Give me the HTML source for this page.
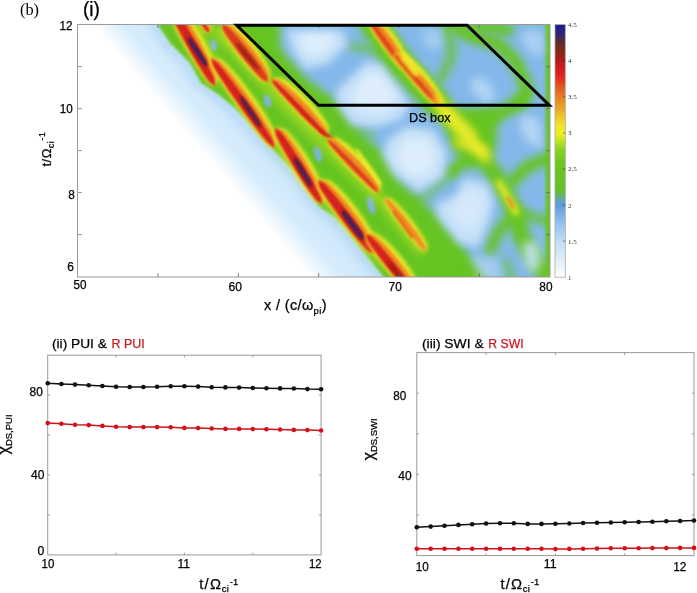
<!DOCTYPE html>
<html><head><meta charset="utf-8"><title>figure</title>
<style>html,body{margin:0;padding:0;background:#fff}svg{display:block}text{font-family:"Liberation Sans",sans-serif;fill:#000;stroke:#000;stroke-width:0.25px}.ser{font-family:"Liberation Serif",serif;stroke:none}</style>
</head><body>
<svg width="697" height="593" viewBox="0 0 697 593">
<defs>
<filter id="b1" filterUnits="userSpaceOnUse" x="0" y="0" width="697" height="593"><feGaussianBlur stdDeviation="1"/></filter>
<filter id="b15" filterUnits="userSpaceOnUse" x="0" y="0" width="697" height="593"><feGaussianBlur stdDeviation="1.5"/></filter>
<filter id="b2" filterUnits="userSpaceOnUse" x="0" y="0" width="697" height="593"><feGaussianBlur stdDeviation="2"/></filter>
<filter id="b3" filterUnits="userSpaceOnUse" x="0" y="0" width="697" height="593"><feGaussianBlur stdDeviation="3"/></filter>
<filter id="b4" filterUnits="userSpaceOnUse" x="0" y="0" width="697" height="593"><feGaussianBlur stdDeviation="4"/></filter>
<filter id="b5" filterUnits="userSpaceOnUse" x="0" y="0" width="697" height="593"><feGaussianBlur stdDeviation="5"/></filter>
<filter id="b6" filterUnits="userSpaceOnUse" x="0" y="0" width="697" height="593"><feGaussianBlur stdDeviation="6"/></filter>
<filter id="b8" filterUnits="userSpaceOnUse" x="0" y="0" width="697" height="593"><feGaussianBlur stdDeviation="8"/></filter>
<clipPath id="cp"><rect x="78" y="25" width="472" height="252"/></clipPath>
<linearGradient id="ug" gradientUnits="userSpaceOnUse" x1="92" y1="25" x2="136.5" y2="-13.5"><stop offset="0" stop-color="#ffffff"/><stop offset="0.15" stop-color="#f0f8fe"/><stop offset="0.4" stop-color="#d8edfc"/><stop offset="1" stop-color="#c8e4fa"/></linearGradient>
<linearGradient id="cb" x1="0" y1="0" x2="0" y2="1">
<stop offset="0.0" stop-color="#1b1b8f"/>
<stop offset="0.0286" stop-color="#26247f"/>
<stop offset="0.0571" stop-color="#4a2a48"/>
<stop offset="0.0857" stop-color="#6e2a22"/>
<stop offset="0.1143" stop-color="#8f2412"/>
<stop offset="0.1429" stop-color="#b01c18"/>
<stop offset="0.1714" stop-color="#d01c1c"/>
<stop offset="0.2" stop-color="#e02020"/>
<stop offset="0.2343" stop-color="#e24a1e"/>
<stop offset="0.2857" stop-color="#e67e22"/>
<stop offset="0.3429" stop-color="#ecb02a"/>
<stop offset="0.4" stop-color="#f2e62a"/>
<stop offset="0.4286" stop-color="#f0f020"/>
<stop offset="0.4571" stop-color="#c4e820"/>
<stop offset="0.4943" stop-color="#8ad41c"/>
<stop offset="0.5429" stop-color="#6cc81c"/>
<stop offset="0.6571" stop-color="#62c028"/>
<stop offset="0.68" stop-color="#60b478"/>
<stop offset="0.7" stop-color="#5ea2c8"/>
<stop offset="0.7143" stop-color="#5c9cdc"/>
<stop offset="0.7857" stop-color="#94c2ee"/>
<stop offset="0.8571" stop-color="#c0dcf6"/>
<stop offset="0.9286" stop-color="#e0eefb"/>
<stop offset="1.0" stop-color="#ffffff"/>
</linearGradient>
</defs>
<rect width="697" height="593" fill="#fff"/>
<g clip-path="url(#cp)">
<rect x="78" y="25" width="472" height="252" fill="#fff"/>
<polygon points="92.0,25.0 560.0,25.0 560.0,290.0 321.2,290.0" fill="url(#ug)"/>
<polyline points="152.0,24.0 166.0,45.0 186.0,65.0 197.0,85.0 214.5,96.6 232.0,111.0 243.0,122.0 257.5,139.6 271.4,153.5 291.5,173.6 306.0,193.6 314.5,208.0 331.7,219.5 343.0,231.0 357.5,251.0 371.0,268.0 382.0,282.0" fill="none" stroke="#a8d0f3" stroke-width="8" stroke-linecap="round" stroke-linejoin="round" filter="url(#b3)" opacity="0.5"/>
<polygon points="156.0,22.0 170.0,43.0 190.0,63.0 201.0,83.0 218.5,94.6 236.0,109.0 247.0,120.0 261.5,137.6 275.4,151.5 295.5,171.6 310.0,191.6 318.5,206.0 335.7,217.5 347.0,229.0 361.5,249.0 375.0,266.0 386.0,280.0 560.0,290.0 560.0,15.0 156.0,15.0" fill="#66c422" filter="url(#b15)"/>
<polygon points="280.0,20.0 280.0,48.0 308.0,80.0 334.0,99.0 352.0,126.0 383.0,152.0 397.0,178.0 437.0,215.0 462.0,246.0 492.0,285.0 560.0,285.0 560.0,20.0" fill="#84b8ea" filter="url(#b4)"/>
<polyline points="372.0,22.0 400.0,62.0 437.0,103.0 470.0,140.0 500.0,182.0 516.0,213.0 522.0,238.0 548.0,280.0" fill="none" stroke="#66c422" stroke-width="17" stroke-linecap="round" stroke-linejoin="round" filter="url(#b4)"/>
<polyline points="448.0,22.0 470.0,36.0 498.0,44.0 516.0,62.0 528.0,90.0 520.0,104.0" fill="none" stroke="#66c422" stroke-width="13" stroke-linecap="round" stroke-linejoin="round" filter="url(#b4)"/>
<polyline points="470.0,25.0 508.0,30.0" fill="none" stroke="#66c422" stroke-width="12" stroke-linecap="round" stroke-linejoin="round" filter="url(#b4)"/>
<polyline points="522.0,100.0 504.0,112.0 480.0,122.0" fill="none" stroke="#66c422" stroke-width="13" stroke-linecap="round" stroke-linejoin="round" filter="url(#b4)"/>
<polygon points="440.0,108.0 498.0,108.0 496.0,150.0 472.0,170.0 452.0,148.0" fill="#66c422" filter="url(#b4)"/>
<polyline points="476.0,150.0 452.0,172.0" fill="none" stroke="#66c422" stroke-width="12" stroke-linecap="round" stroke-linejoin="round" filter="url(#b4)"/>
<polyline points="452.0,172.0 430.0,192.0 412.0,204.0 400.0,208.0" fill="none" stroke="#66c422" stroke-width="9" stroke-linecap="round" stroke-linejoin="round" filter="url(#b4)" opacity="0.55"/>
<polyline points="516.0,213.0 498.0,232.0 490.0,250.0" fill="none" stroke="#66c422" stroke-width="12" stroke-linecap="round" stroke-linejoin="round" filter="url(#b4)" opacity="0.9"/>
<polyline points="550.0,158.0 528.0,166.0 512.0,182.0" fill="none" stroke="#66c422" stroke-width="12" stroke-linecap="round" stroke-linejoin="round" filter="url(#b4)"/>
<polyline points="550.0,222.0 530.0,216.0 518.0,214.0" fill="none" stroke="#66c422" stroke-width="9" stroke-linecap="round" stroke-linejoin="round" filter="url(#b4)" opacity="0.9"/>
<polyline points="352.0,46.0 372.0,50.0 392.0,60.0" fill="none" stroke="#66c422" stroke-width="8" stroke-linecap="round" stroke-linejoin="round" filter="url(#b4)" opacity="0.7"/>
<polyline points="448.0,30.0 452.0,56.0 440.0,80.0" fill="none" stroke="#66c422" stroke-width="9" stroke-linecap="round" stroke-linejoin="round" filter="url(#b4)" opacity="0.8"/>
<polyline points="330.0,104.0 346.0,128.0 372.0,134.0" fill="none" stroke="#66c422" stroke-width="7" stroke-linecap="round" stroke-linejoin="round" filter="url(#b4)" opacity="0.6"/>
<polyline points="506.0,262.0 512.0,280.0" fill="none" stroke="#66c422" stroke-width="8" stroke-linecap="round" stroke-linejoin="round" filter="url(#b4)" opacity="0.7"/>
<line x1="548.5" y1="25" x2="548.5" y2="277" stroke="#66c422" stroke-width="6" stroke-linecap="round" filter="url(#b15)"/>
<polygon points="286.0,30.0 342.0,30.0 348.0,44.0 328.0,64.0 305.0,69.0 292.0,50.0" fill="#c6e1f8" filter="url(#b4)"/>
<polygon points="366.5,62.0 384.0,64.0 403.0,92.4 410.0,106.0 400.0,120.0 375.0,127.0 352.0,124.0 336.8,103.0 336.8,90.0" fill="#c6e1f8" filter="url(#b4)"/>
<polygon points="407.7,126.0 434.0,130.0 447.0,153.6 443.0,177.0 418.7,192.0 393.0,173.0 382.4,153.6 389.0,138.0" fill="#c6e1f8" filter="url(#b4)"/>
<polygon points="463.7,178.0 487.0,183.0 494.0,201.4 489.0,222.6 477.9,247.0 459.0,243.0 438.8,217.9 436.0,204.0 456.6,195.0" fill="#c6e1f8" filter="url(#b4)"/>
<polygon points="523.0,242.0 537.0,242.0 541.0,262.0 535.0,274.0 525.0,264.0" fill="#c6e1f8" filter="url(#b4)" opacity="0.9"/>
<polygon points="474.0,76.0 490.0,82.0 496.0,100.0 482.0,102.0 470.0,88.0" fill="#c6e1f8" filter="url(#b4)" opacity="0.7"/>
<polygon points="522.0,114.0 540.0,120.0 543.0,148.0 530.0,144.0 520.0,130.0" fill="#c6e1f8" filter="url(#b4)" opacity="0.7"/>
<polygon points="524.0,30.0 542.0,32.0 544.0,54.0 534.0,56.0 522.0,42.0" fill="#c6e1f8" filter="url(#b4)" opacity="0.6"/>
<polygon points="424.0,30.0 440.0,30.0 444.0,46.0 432.0,50.0 422.0,40.0" fill="#c6e1f8" filter="url(#b4)" opacity="0.5"/>
<polygon points="470.0,256.0 496.0,258.0 504.0,280.0 480.0,280.0" fill="#c6e1f8" filter="url(#b4)" opacity="0.5"/>
<polygon points="300.0,34.0 332.0,34.0 334.0,44.0 318.0,56.0 304.0,52.0" fill="#e4f1fc" filter="url(#b4)" opacity="0.8"/>
<polygon points="368.0,72.0 384.0,76.0 396.0,98.0 384.0,112.0 362.0,110.0 350.0,98.0" fill="#e4f1fc" filter="url(#b4)" opacity="0.8"/>
<polygon points="406.0,138.0 428.0,140.0 436.0,158.0 428.0,174.0 410.0,176.0 396.0,158.0" fill="#e4f1fc" filter="url(#b4)" opacity="0.8"/>
<polygon points="462.0,192.0 480.0,192.0 484.0,206.0 476.0,228.0 462.0,228.0 450.0,212.0" fill="#e4f1fc" filter="url(#b4)" opacity="0.5"/>
<ellipse cx="213.5" cy="45" rx="3.6" ry="6" transform="rotate(-14 213.5 45)" fill="#7ab2e6" filter="url(#b15)"/>
<ellipse cx="267.5" cy="101" rx="3.6" ry="6.5" transform="rotate(-14 267.5 101)" fill="#7ab2e6" filter="url(#b15)"/>
<ellipse cx="318" cy="154" rx="3.6" ry="8" transform="rotate(-14 318 154)" fill="#7ab2e6" filter="url(#b15)"/>
<ellipse cx="371" cy="205" rx="3.6" ry="9.5" transform="rotate(-14 371 205)" fill="#7ab2e6" filter="url(#b15)"/>
<polyline points="215.0,30.0 262.0,80.0 300.0,120.0 345.0,165.0 385.0,205.0 420.0,250.0" fill="none" stroke="#c8e822" stroke-width="10" stroke-linecap="round" stroke-linejoin="round" filter="url(#b4)" opacity="0.55"/>
<polyline points="196.0,28.0 225.0,78.0 262.0,125.0 300.0,175.0 340.0,215.0 380.0,262.0" fill="none" stroke="#c8e822" stroke-width="8" stroke-linecap="round" stroke-linejoin="round" filter="url(#b4)" opacity="0.45"/>
<polygon points="166.0,-2.0 176.5,0.4 181.5,5.8 186.0,11.6 190.1,17.5 194.1,23.5 197.8,29.7 201.4,35.9 204.8,42.3 208.1,48.7 211.1,55.2 214.0,61.9 216.5,68.7 218.5,75.8 215.0,86.0 215.0,86.0 207.6,81.9 203.2,76.1 199.2,70.1 195.3,64.0 191.6,57.9 187.9,51.7 184.4,45.4 180.9,39.1 177.6,32.7 174.3,26.3 171.2,19.8 168.2,13.2 165.6,6.5 166.0,-2.0" fill="#f2ee2c" filter="url(#b2)"/>
<polygon points="166.0,-2.0 174.5,1.5 179.1,7.2 183.2,13.1 187.2,19.1 191.0,25.2 194.7,31.4 198.3,37.7 201.7,44.0 205.0,50.4 208.2,56.8 211.2,63.4 214.1,70.1 216.5,77.0 215.0,86.0 215.0,86.0 208.3,81.5 204.1,75.6 200.2,69.5 196.4,63.4 192.7,57.3 189.1,51.0 185.5,44.8 182.1,38.5 178.7,32.1 175.4,25.7 172.2,19.3 169.1,12.7 166.3,6.1 166.0,-2.0" fill="#ee8a22" filter="url(#b15)"/>
<polygon points="166.0,-2.0 172.0,2.9 176.1,8.9 179.9,15.0 183.7,21.1 187.3,27.3 190.9,33.5 194.4,39.8 197.9,46.1 201.3,52.4 204.7,58.8 207.9,65.2 211.1,71.7 214.0,78.3 215.0,86.0 215.0,86.0 209.0,81.1 204.9,75.1 201.1,69.0 197.3,62.9 193.7,56.7 190.1,50.5 186.6,44.2 183.1,37.9 179.7,31.6 176.3,25.2 173.1,18.8 169.9,12.3 167.0,5.7 166.0,-2.0" fill="#d4201c" filter="url(#b1)"/>
<polygon points="188.0,37.0 191.0,38.0 192.7,39.9 194.2,41.8 195.8,43.8 197.2,45.8 198.6,47.8 200.0,49.9 201.3,51.9 202.6,54.0 203.9,56.2 205.1,58.4 206.2,60.6 207.2,62.9 207.0,66.0 207.0,66.0 203.8,65.2 202.0,63.4 200.4,61.5 198.9,59.5 197.4,57.5 196.0,55.5 194.6,53.4 193.2,51.3 191.9,49.2 190.7,47.1 189.5,44.9 188.4,42.6 187.5,40.3 188.0,37.0" fill="#8c1c12" filter="url(#b15)"/>
<polygon points="188.0,37.0 190.0,38.7 191.5,40.6 192.9,42.6 194.4,44.7 195.8,46.7 197.1,48.8 198.5,50.8 199.9,52.9 201.2,55.0 202.5,57.1 203.8,59.2 205.1,61.3 206.3,63.5 207.0,66.0 207.0,66.0 204.8,64.5 203.3,62.5 201.8,60.5 200.4,58.5 199.0,56.4 197.6,54.4 196.2,52.3 194.9,50.2 193.6,48.2 192.3,46.0 191.0,43.9 189.7,41.8 188.6,39.6 188.0,37.0" fill="#22228a" filter="url(#b1)"/>
<polygon points="222.0,24.0 231.4,23.3 236.0,26.4 240.2,29.8 244.1,33.5 247.7,37.3 251.2,41.3 254.6,45.4 257.8,49.6 260.9,53.9 263.8,58.4 266.5,63.0 268.9,67.8 270.8,73.0 268.0,82.0 268.0,82.0 261.3,80.5 257.3,77.0 253.6,73.2 249.9,69.3 246.4,65.4 243.0,61.3 239.7,57.2 236.5,53.0 233.3,48.8 230.2,44.5 227.3,40.1 224.5,35.6 221.9,30.8 222.0,24.0" fill="#f2ee2c" filter="url(#b2)"/>
<polygon points="222.0,24.0 229.6,24.7 233.8,28.1 237.7,31.8 241.4,35.6 245.0,39.5 248.4,43.5 251.8,47.6 255.0,51.8 258.1,56.1 261.2,60.4 264.0,64.9 266.7,69.5 269.0,74.4 268.0,82.0 268.0,82.0 262.0,80.0 258.1,76.4 254.4,72.5 250.9,68.6 247.4,64.6 244.0,60.5 240.7,56.4 237.5,52.2 234.3,48.0 231.2,43.7 228.2,39.4 225.2,34.9 222.6,30.3 222.0,24.0" fill="#ee8a22" filter="url(#b15)"/>
<polygon points="222.0,24.0 227.4,26.5 231.2,30.2 234.7,34.1 238.2,38.1 241.7,42.2 245.0,46.2 248.3,50.4 251.6,54.5 254.8,58.7 258.0,63.0 261.0,67.3 264.0,71.7 266.8,76.2 268.0,82.0 268.0,82.0 262.6,79.5 258.8,75.8 255.3,71.9 251.8,67.9 248.3,63.8 245.0,59.8 241.7,55.6 238.4,51.5 235.2,47.3 232.0,43.0 229.0,38.7 226.0,34.3 223.2,29.8 222.0,24.0" fill="#dc3a1e" filter="url(#b1)"/>
<polygon points="236.0,42.0 238.5,43.3 240.3,45.1 242.1,47.0 243.8,49.0 245.5,50.9 247.2,52.9 248.9,54.9 250.5,56.9 252.1,58.9 253.7,61.0 255.2,63.0 256.8,65.1 258.2,67.3 259.0,70.0 259.0,70.0 256.2,68.9 254.4,67.1 252.6,65.2 250.8,63.3 249.1,61.4 247.4,59.4 245.8,57.4 244.1,55.4 242.5,53.4 241.0,51.3 239.4,49.2 237.9,47.1 236.5,44.9 236.0,42.0" fill="#8c1c12" filter="url(#b15)" opacity="0.9"/>
<polygon points="201.0,21.0 204.4,19.7 205.6,20.1 206.6,20.5 207.4,21.1 208.2,21.8 208.8,22.5 209.4,23.3 210.0,24.1 210.5,24.9 210.8,25.9 211.1,26.8 211.3,27.9 211.3,29.2 209.0,32.0 209.0,32.0 206.4,32.7 205.3,32.3 204.5,31.7 203.7,31.0 203.0,30.4 202.4,29.6 201.8,28.9 201.2,28.0 200.7,27.2 200.3,26.3 199.9,25.4 199.6,24.4 199.5,23.3 201.0,21.0" fill="#f2ee2c" filter="url(#b2)"/>
<polygon points="201.0,21.0 203.5,20.4 204.5,20.9 205.3,21.5 206.1,22.1 206.8,22.8 207.4,23.6 208.0,24.3 208.5,25.1 209.0,26.0 209.5,26.8 209.9,27.8 210.2,28.7 210.3,29.8 209.0,32.0 209.0,32.0 207.0,32.2 206.2,31.7 205.4,31.0 204.7,30.3 204.0,29.6 203.4,28.9 202.8,28.1 202.3,27.3 201.7,26.5 201.3,25.6 200.8,24.7 200.4,23.8 200.2,22.8 201.0,21.0" fill="#ee8a22" filter="url(#b15)"/>
<polygon points="201.0,21.0 202.3,21.2 203.1,21.9 203.8,22.6 204.4,23.3 205.0,24.1 205.6,24.8 206.2,25.6 206.8,26.4 207.3,27.2 207.8,28.0 208.3,28.9 208.8,29.7 209.2,30.7 209.0,32.0 209.0,32.0 207.7,31.8 206.9,31.1 206.2,30.4 205.6,29.7 205.0,28.9 204.4,28.2 203.8,27.4 203.2,26.6 202.7,25.8 202.2,25.0 201.7,24.1 201.2,23.3 200.8,22.3 201.0,21.0" fill="#d4201c" filter="url(#b1)"/>
<polygon points="211.0,58.0 221.8,60.0 227.8,65.4 233.2,71.3 238.4,77.3 243.3,83.4 248.1,89.7 252.8,96.0 257.3,102.5 261.6,109.1 265.8,115.8 269.8,122.7 273.5,129.7 276.7,137.1 275.0,148.0 275.0,148.0 267.1,144.0 261.7,138.1 256.7,132.0 251.8,125.8 247.0,119.5 242.3,113.2 237.7,106.8 233.2,100.3 228.7,93.8 224.4,87.2 220.1,80.6 216.0,73.8 212.2,66.8 211.0,58.0" fill="#f2ee2c" filter="url(#b2)"/>
<polygon points="211.0,58.0 219.9,61.3 225.5,67.1 230.7,73.1 235.6,79.2 240.5,85.4 245.2,91.7 249.8,98.1 254.4,104.6 258.8,111.1 263.1,117.8 267.2,124.5 271.2,131.4 274.8,138.5 275.0,148.0 275.0,148.0 267.7,143.5 262.6,137.5 257.6,131.3 252.8,125.1 248.0,118.8 243.4,112.4 238.8,106.0 234.2,99.6 229.7,93.1 225.3,86.5 221.0,79.9 216.8,73.2 212.9,66.3 211.0,58.0" fill="#ee8a22" filter="url(#b15)"/>
<polygon points="211.0,58.0 217.6,63.0 222.7,69.1 227.5,75.3 232.3,81.6 237.0,87.9 241.7,94.3 246.3,100.7 250.8,107.1 255.3,113.6 259.7,120.1 264.1,126.7 268.4,133.3 272.5,140.1 275.0,148.0 275.0,148.0 268.4,143.0 263.3,136.9 258.5,130.7 253.7,124.4 249.0,118.1 244.3,111.7 239.7,105.3 235.2,98.9 230.7,92.4 226.3,85.9 221.9,79.3 217.6,72.7 213.5,65.9 211.0,58.0" fill="#d4201c" filter="url(#b1)"/>
<polygon points="240.0,96.0 242.8,97.3 244.6,99.3 246.3,101.4 247.9,103.6 249.5,105.7 251.1,107.9 252.6,110.1 254.1,112.3 255.5,114.6 256.9,116.8 258.3,119.1 259.6,121.5 260.8,123.9 261.0,127.0 261.0,127.0 257.9,125.9 256.1,123.9 254.3,121.8 252.7,119.7 251.1,117.6 249.5,115.4 248.0,113.2 246.5,111.0 245.1,108.7 243.7,106.4 242.3,104.1 241.1,101.7 239.9,99.3 240.0,96.0" fill="#8c1c12" filter="url(#b15)"/>
<polygon points="240.0,96.0 241.9,98.0 243.5,100.1 245.0,102.3 246.5,104.5 248.1,106.7 249.6,108.9 251.1,111.1 252.6,113.3 254.1,115.5 255.5,117.8 257.0,120.0 258.5,122.3 259.9,124.5 261.0,127.0 261.0,127.0 259.0,125.1 257.4,123.0 255.8,120.8 254.2,118.7 252.7,116.5 251.2,114.3 249.7,112.1 248.2,109.8 246.7,107.6 245.2,105.4 243.8,103.1 242.4,100.9 241.0,98.6 240.0,96.0" fill="#22228a" filter="url(#b1)"/>
<polygon points="271.0,79.0 280.7,77.6 286.0,80.5 290.8,83.9 295.4,87.5 299.7,91.3 303.9,95.2 308.0,99.3 311.9,103.5 315.7,107.9 319.4,112.4 322.8,117.0 326.0,122.0 328.7,127.3 327.0,137.0 327.0,137.0 320.7,135.1 316.2,131.4 311.9,127.6 307.7,123.7 303.5,119.7 299.4,115.6 295.4,111.5 291.4,107.3 287.5,103.1 283.7,98.8 279.9,94.4 276.2,90.0 272.7,85.4 271.0,79.0" fill="#f2ee2c" filter="url(#b2)"/>
<polygon points="271.0,79.0 278.7,79.6 283.5,83.0 288.0,86.6 292.3,90.4 296.6,94.3 300.7,98.3 304.8,102.4 308.7,106.6 312.6,110.9 316.3,115.3 320.0,119.7 323.5,124.4 326.7,129.3 327.0,137.0 327.0,137.0 321.3,134.5 316.9,130.7 312.7,126.8 308.5,122.8 304.4,118.8 300.4,114.7 296.3,110.6 292.4,106.4 288.4,102.2 284.5,98.0 280.7,93.7 276.9,89.3 273.3,84.8 271.0,79.0" fill="#ee8a22" filter="url(#b15)"/>
<polygon points="271.0,79.0 276.1,82.0 280.4,85.9 284.6,89.9 288.7,94.0 292.7,98.0 296.8,102.1 300.8,106.3 304.8,110.4 308.7,114.6 312.7,118.8 316.6,123.1 320.4,127.4 324.1,131.8 327.0,137.0 327.0,137.0 321.9,134.0 317.6,130.1 313.4,126.1 309.3,122.0 305.3,118.0 301.2,113.9 297.2,109.7 293.2,105.6 289.3,101.4 285.3,97.2 281.4,92.9 277.6,88.6 273.9,84.2 271.0,79.0" fill="#d4201c" filter="url(#b1)"/>
<polygon points="298.0,110.0 299.4,111.4 300.9,112.7 302.3,114.1 303.7,115.4 305.1,116.8 306.6,118.1 308.0,119.5 309.4,120.9 310.9,122.2 312.3,123.6 313.7,124.9 315.1,126.3 316.6,127.6 318.0,129.0 318.0,129.0 316.4,127.9 314.9,126.6 313.4,125.2 312.0,123.9 310.5,122.6 309.1,121.2 307.7,119.9 306.2,118.5 304.8,117.1 303.4,115.8 302.0,114.4 300.6,113.0 299.2,111.6 298.0,110.0" fill="#8c1c12" filter="url(#b15)" opacity="0.9"/>
<line x1="320" y1="130" x2="338" y2="143" stroke="#d4201c" stroke-width="3" stroke-linecap="round" filter="url(#b1)"/>
<polygon points="275.0,128.0 285.0,129.3 289.8,133.8 294.1,138.7 298.1,143.7 301.9,148.9 305.5,154.2 308.9,159.6 312.2,165.0 315.3,170.6 318.2,176.3 321.0,182.1 323.4,188.1 325.3,194.5 322.0,204.0 322.0,204.0 315.0,200.8 310.8,195.9 306.9,190.8 303.2,185.6 299.7,180.3 296.2,175.0 292.8,169.6 289.4,164.1 286.2,158.6 283.1,153.0 280.1,147.4 277.2,141.6 274.7,135.7 275.0,128.0" fill="#f2ee2c" filter="url(#b2)"/>
<polygon points="275.0,128.0 283.0,130.5 287.4,135.3 291.5,140.3 295.3,145.5 298.9,150.7 302.4,156.1 305.9,161.5 309.2,166.9 312.3,172.4 315.4,178.1 318.3,183.8 321.0,189.6 323.3,195.7 322.0,204.0 322.0,204.0 315.7,200.4 311.7,195.4 307.9,190.2 304.3,184.9 300.7,179.6 297.3,174.3 293.9,168.9 290.5,163.4 287.3,157.9 284.1,152.4 281.0,146.8 278.1,141.1 275.4,135.3 275.0,128.0" fill="#ee8a22" filter="url(#b15)"/>
<polygon points="275.0,128.0 280.7,132.0 284.5,137.1 288.2,142.3 291.8,147.6 295.3,153.0 298.7,158.4 302.1,163.8 305.4,169.2 308.7,174.7 311.9,180.2 315.1,185.8 318.1,191.4 320.9,197.1 322.0,204.0 322.0,204.0 316.3,200.0 312.5,194.9 308.8,189.7 305.2,184.4 301.7,179.0 298.3,173.6 294.9,168.2 291.6,162.8 288.3,157.3 285.1,151.8 281.9,146.2 278.9,140.6 276.1,134.9 275.0,128.0" fill="#d4201c" filter="url(#b1)"/>
<polygon points="294.0,157.0 296.8,158.2 298.4,160.2 299.9,162.2 301.3,164.3 302.7,166.3 304.1,168.5 305.4,170.6 306.6,172.7 307.9,174.9 309.0,177.1 310.2,179.3 311.3,181.6 312.2,184.0 312.0,187.0 312.0,187.0 308.9,185.9 307.3,184.0 305.7,182.0 304.3,180.0 302.9,177.9 301.5,175.8 300.2,173.7 298.9,171.5 297.7,169.3 296.6,167.1 295.4,164.9 294.4,162.6 293.5,160.2 294.0,157.0" fill="#8c1c12" filter="url(#b15)"/>
<polygon points="294.0,157.0 295.8,158.8 297.2,160.9 298.6,163.0 299.9,165.1 301.2,167.2 302.5,169.4 303.8,171.5 305.1,173.7 306.4,175.8 307.6,178.0 308.8,180.1 310.1,182.3 311.2,184.5 312.0,187.0 312.0,187.0 310.0,185.3 308.6,183.2 307.2,181.1 305.9,179.0 304.5,176.9 303.2,174.8 301.9,172.6 300.7,170.5 299.4,168.3 298.1,166.2 296.9,164.0 295.7,161.8 294.6,159.6 294.0,157.0" fill="#22228a" filter="url(#b1)"/>
<polygon points="318.0,180.0 328.9,180.1 334.4,184.2 339.3,188.8 344.0,193.6 348.4,198.5 352.7,203.6 356.8,208.9 360.7,214.2 364.4,219.7 368.0,225.3 371.3,231.1 374.4,237.1 376.9,243.5 374.0,254.0 374.0,254.0 366.4,251.4 361.7,246.7 357.2,241.8 352.8,236.8 348.6,231.7 344.5,226.5 340.4,221.2 336.5,215.9 332.6,210.5 328.8,205.1 325.2,199.5 321.7,193.9 318.4,188.0 318.0,180.0" fill="#f2ee2c" filter="url(#b2)"/>
<polygon points="318.0,180.0 326.8,181.7 331.9,186.1 336.5,190.9 341.0,195.8 345.3,200.9 349.5,206.1 353.5,211.3 357.5,216.6 361.3,222.0 365.0,227.6 368.5,233.2 371.9,239.0 374.8,245.1 374.0,254.0 374.0,254.0 367.1,250.9 362.5,246.1 358.1,241.1 353.8,236.1 349.6,230.9 345.5,225.7 341.5,220.4 337.5,215.1 333.6,209.8 329.8,204.3 326.1,198.8 322.5,193.2 319.1,187.5 318.0,180.0" fill="#ee8a22" filter="url(#b15)"/>
<polygon points="318.0,180.0 324.3,183.6 328.8,188.5 333.1,193.5 337.3,198.6 341.5,203.8 345.6,209.0 349.6,214.3 353.6,219.6 357.5,224.9 361.3,230.3 365.1,235.8 368.8,241.3 372.3,247.0 374.0,254.0 374.0,254.0 367.7,250.4 363.2,245.5 358.9,240.5 354.7,235.4 350.5,230.2 346.4,225.0 342.4,219.7 338.4,214.4 334.5,209.1 330.7,203.7 326.9,198.2 323.2,192.7 319.7,187.0 318.0,180.0" fill="#d4201c" filter="url(#b1)"/>
<polygon points="342.0,210.0 345.1,211.0 347.0,212.9 348.8,214.9 350.5,216.9 352.2,219.0 353.8,221.1 355.4,223.2 357.0,225.4 358.5,227.6 360.0,229.8 361.4,232.0 362.7,234.3 364.0,236.7 364.0,240.0 364.0,240.0 360.6,239.2 358.7,237.3 356.8,235.4 355.1,233.4 353.4,231.3 351.8,229.2 350.2,227.1 348.6,224.9 347.1,222.7 345.7,220.5 344.3,218.2 342.9,215.9 341.8,213.5 342.0,210.0" fill="#8c1c12" filter="url(#b15)"/>
<polygon points="342.0,210.0 344.2,211.7 345.9,213.7 347.6,215.8 349.2,217.9 350.8,220.0 352.4,222.2 354.0,224.3 355.5,226.4 357.1,228.6 358.6,230.8 360.1,233.0 361.6,235.2 363.0,237.4 364.0,240.0 364.0,240.0 361.7,238.4 359.9,236.4 358.2,234.3 356.6,232.3 355.0,230.1 353.4,228.0 351.8,225.9 350.2,223.7 348.7,221.6 347.2,219.4 345.7,217.2 344.2,215.0 342.8,212.7 342.0,210.0" fill="#22228a" filter="url(#b1)"/>
<polygon points="366.0,234.0 376.0,233.2 381.0,236.5 385.5,240.2 389.7,244.1 393.7,248.2 397.5,252.5 401.1,256.8 404.6,261.3 408.0,265.9 411.1,270.7 414.1,275.6 416.7,280.8 418.9,286.4 416.0,296.0 416.0,296.0 409.2,294.2 404.9,290.3 400.9,286.3 397.0,282.1 393.2,277.8 389.6,273.5 385.9,269.1 382.4,264.6 379.0,260.1 375.6,255.5 372.3,250.8 369.2,246.0 366.3,241.0 366.0,234.0" fill="#f2ee2c" filter="url(#b2)"/>
<polygon points="366.0,234.0 374.0,234.8 378.6,238.5 382.8,242.4 386.8,246.5 390.6,250.7 394.3,255.0 398.0,259.4 401.5,263.9 404.9,268.4 408.2,273.1 411.3,277.8 414.3,282.8 416.9,288.0 416.0,296.0 416.0,296.0 409.8,293.7 405.7,289.7 401.8,285.5 398.0,281.3 394.2,277.0 390.6,272.7 387.0,268.3 383.4,263.8 379.9,259.3 376.5,254.7 373.2,250.1 370.0,245.4 367.0,240.5 366.0,234.0" fill="#ee8a22" filter="url(#b15)"/>
<polygon points="366.0,234.0 371.6,236.8 375.6,240.9 379.4,245.1 383.2,249.4 386.9,253.7 390.5,258.1 394.1,262.5 397.7,266.9 401.2,271.4 404.6,276.0 408.0,280.5 411.3,285.2 414.4,290.0 416.0,296.0 416.0,296.0 410.4,293.2 406.4,289.1 402.6,284.9 398.8,280.6 395.1,276.3 391.5,271.9 387.9,267.5 384.3,263.1 380.8,258.6 377.4,254.0 374.0,249.5 370.7,244.8 367.6,240.0 366.0,234.0" fill="#d4201c" filter="url(#b1)"/>
<polygon points="388.0,262.0 390.3,263.2 392.0,265.0 393.7,266.7 395.3,268.5 397.0,270.3 398.6,272.2 400.1,274.0 401.7,275.9 403.3,277.8 404.8,279.7 406.3,281.6 407.7,283.5 409.2,285.5 410.0,288.0 410.0,288.0 407.5,287.0 405.7,285.3 404.0,283.5 402.3,281.8 400.7,280.0 399.1,278.1 397.5,276.3 395.9,274.4 394.4,272.5 392.9,270.6 391.4,268.7 390.0,266.7 388.6,264.7 388.0,262.0" fill="#8c1c12" filter="url(#b15)" opacity="0.9"/>
<polygon points="327.0,139.0 336.3,137.4 341.3,140.1 345.8,143.2 350.1,146.5 354.1,150.1 358.0,153.7 361.8,157.5 365.5,161.4 369.0,165.5 372.3,169.7 375.5,174.1 378.4,178.7 380.9,183.7 379.0,193.0 379.0,193.0 373.1,191.2 368.9,187.9 364.9,184.3 361.0,180.6 357.1,176.9 353.3,173.1 349.6,169.3 345.9,165.4 342.3,161.5 338.7,157.5 335.2,153.4 331.8,149.3 328.5,145.0 327.0,139.0" fill="#f2ee2c" filter="url(#b2)"/>
<polygon points="327.0,139.0 334.3,139.4 338.8,142.5 343.0,145.9 347.0,149.4 351.0,153.1 354.8,156.8 358.6,160.6 362.3,164.5 365.8,168.5 369.3,172.6 372.7,176.8 375.9,181.1 378.8,185.7 379.0,193.0 379.0,193.0 373.7,190.7 369.6,187.1 365.7,183.5 361.8,179.8 358.0,176.0 354.2,172.2 350.5,168.4 346.8,164.5 343.2,160.6 339.5,156.7 336.0,152.6 332.5,148.6 329.1,144.4 327.0,139.0" fill="#ee8a22" filter="url(#b15)"/>
<polygon points="327.0,139.0 331.7,141.9 335.7,145.5 339.5,149.2 343.4,153.0 347.1,156.8 350.9,160.6 354.6,164.4 358.3,168.3 362.0,172.2 365.6,176.1 369.3,180.1 372.8,184.1 376.3,188.1 379.0,193.0 379.0,193.0 374.3,190.1 370.3,186.5 366.5,182.8 362.6,179.0 358.9,175.2 355.1,171.4 351.4,167.6 347.7,163.7 344.0,159.8 340.4,155.9 336.7,151.9 333.2,147.9 329.7,143.9 327.0,139.0" fill="#dc3a1e" filter="url(#b1)"/>
<polygon points="384.0,198.0 391.0,198.7 394.9,201.9 398.5,205.3 401.9,208.9 405.1,212.5 408.3,216.3 411.3,220.1 414.3,224.0 417.1,228.0 419.9,232.0 422.5,236.2 424.9,240.5 427.0,245.0 426.0,252.0 426.0,252.0 421.2,249.5 417.8,246.0 414.6,242.3 411.4,238.6 408.3,234.8 405.3,231.0 402.2,227.1 399.3,223.3 396.3,219.4 393.4,215.4 390.6,211.4 387.8,207.4 385.2,203.2 384.0,198.0" fill="#f2ee2c" filter="url(#b2)"/>
<polygon points="384.0,198.0 389.4,200.0 393.0,203.4 396.3,207.0 399.6,210.7 402.7,214.4 405.8,218.2 408.8,222.0 411.8,225.9 414.7,229.8 417.6,233.8 420.3,237.8 423.0,242.0 425.4,246.2 426.0,252.0 426.0,252.0 421.9,249.0 418.6,245.3 415.5,241.6 412.4,237.8 409.3,234.0 406.3,230.2 403.3,226.4 400.3,222.5 397.3,218.6 394.4,214.7 391.5,210.7 388.6,206.8 385.9,202.7 384.0,198.0" fill="#ee8a22" filter="url(#b15)"/>
<line x1="394" y1="212" x2="412" y2="237" stroke="#e8601e" stroke-width="2.5" stroke-linecap="round" filter="url(#b1)" opacity="0.9"/>
<line x1="357" y1="150" x2="380" y2="184" stroke="#f2ee2c" stroke-width="2.5" stroke-linecap="round" filter="url(#b15)"/>
<polyline points="372.0,22.0 400.0,62.0 437.0,103.0" fill="none" stroke="#66c422" stroke-width="26" stroke-linecap="round" stroke-linejoin="round" filter="url(#b4)"/>
<polygon points="368.0,18.0 376.5,17.3 380.4,19.9 383.8,22.9 387.0,26.0 389.9,29.3 392.7,32.8 395.3,36.3 397.8,39.9 400.2,43.6 402.4,47.5 404.4,51.5 406.1,55.6 407.4,60.1 404.0,68.0 404.0,68.0 398.8,66.3 395.7,63.1 392.8,59.8 389.9,56.4 387.2,53.0 384.5,49.5 381.9,45.9 379.4,42.3 376.9,38.7 374.5,35.0 372.2,31.2 370.0,27.4 368.0,23.4 368.0,18.0" fill="#f2ee2c" filter="url(#b2)"/>
<polygon points="368.0,18.0 374.4,18.8 377.8,21.8 381.0,24.9 383.9,28.2 386.7,31.6 389.4,35.1 392.0,38.6 394.6,42.3 397.0,45.9 399.3,49.7 401.5,53.5 403.6,57.5 405.3,61.7 404.0,68.0 404.0,68.0 399.5,65.8 396.5,62.5 393.7,59.2 390.9,55.7 388.2,52.2 385.6,48.7 383.0,45.2 380.4,41.6 377.9,38.0 375.5,34.3 373.1,30.6 370.8,26.8 368.7,22.9 368.0,18.0" fill="#ee8a22" filter="url(#b15)"/>
<polygon points="368.0,18.0 371.9,20.6 374.7,24.0 377.5,27.4 380.2,30.9 382.8,34.4 385.4,38.0 388.0,41.5 390.6,45.1 393.1,48.7 395.6,52.4 398.0,56.0 400.4,59.7 402.7,63.5 404.0,68.0 404.0,68.0 400.1,65.4 397.3,62.0 394.5,58.6 391.8,55.1 389.2,51.6 386.6,48.0 384.0,44.5 381.4,40.9 378.9,37.3 376.4,33.6 374.0,30.0 371.6,26.3 369.3,22.5 368.0,18.0" fill="#e04a1e" filter="url(#b1)"/>
<polygon points="394.0,54.0 402.8,53.2 407.3,56.0 411.4,59.2 415.3,62.6 419.0,66.1 422.6,69.8 426.0,73.6 429.3,77.5 432.4,81.6 435.5,85.7 438.3,90.0 440.9,94.5 443.0,99.4 441.0,108.0 441.0,108.0 435.4,106.1 431.5,102.7 427.8,99.1 424.2,95.5 420.7,91.7 417.3,88.0 413.9,84.1 410.6,80.2 407.3,76.3 404.1,72.3 401.0,68.3 397.9,64.1 395.1,59.8 394.0,54.0" fill="#f2ee2c" filter="url(#b2)"/>
<polygon points="394.0,54.0 400.8,54.8 404.9,58.0 408.8,61.5 412.5,65.0 416.0,68.7 419.5,72.5 422.9,76.3 426.2,80.2 429.5,84.1 432.6,88.2 435.6,92.3 438.5,96.6 441.1,101.1 441.0,108.0 441.0,108.0 436.0,105.6 432.3,102.0 428.7,98.4 425.2,94.7 421.7,90.9 418.3,87.1 414.9,83.3 411.6,79.4 408.3,75.5 405.0,71.5 401.8,67.5 398.7,63.5 395.7,59.3 394.0,54.0" fill="#ee8a22" filter="url(#b15)"/>
<polygon points="394.0,54.0 398.4,56.9 402.0,60.6 405.5,64.3 409.0,68.1 412.4,71.9 415.8,75.7 419.2,79.5 422.5,83.4 425.9,87.3 429.1,91.2 432.4,95.1 435.6,99.1 438.7,103.2 441.0,108.0 441.0,108.0 436.6,105.1 433.0,101.4 429.5,97.7 426.0,93.9 422.6,90.1 419.2,86.3 415.8,82.5 412.5,78.6 409.1,74.7 405.9,70.8 402.6,66.9 399.4,62.9 396.3,58.8 394.0,54.0" fill="#e04a1e" filter="url(#b1)"/>
<line x1="405" y1="58" x2="416" y2="72" stroke="#f2ee2c" stroke-width="8" stroke-linecap="round" filter="url(#b2)" opacity="0.9"/>
<line x1="437" y1="101" x2="486" y2="158" stroke="#f2ee2c" stroke-width="10" stroke-linecap="round" filter="url(#b4)" opacity="0.9"/>
<line x1="499" y1="183" x2="516" y2="212" stroke="#f2ee2c" stroke-width="7" stroke-linecap="round" filter="url(#b3)" opacity="0.9"/>
<line x1="508" y1="198" x2="513" y2="207" stroke="#ee8a22" stroke-width="3" stroke-linecap="round" filter="url(#b15)"/>
<line x1="458" y1="142" x2="484" y2="150" stroke="#f2ee2c" stroke-width="10" stroke-linecap="round" filter="url(#b4)" opacity="0.8"/>
<line x1="445" y1="112" x2="470" y2="135" stroke="#f2ee2c" stroke-width="14" stroke-linecap="round" filter="url(#b4)" opacity="0.7"/>
</g>
<rect x="77.5" y="24.5" width="472.5" height="252.5" fill="none" stroke="#9a9a9a" stroke-width="1"/>
<line x1="78" y1="234.6" x2="82" y2="234.6" stroke="#777" stroke-width="0.8"/>
<line x1="550" y1="234.6" x2="546" y2="234.6" stroke="#666" stroke-width="0.8"/>
<line x1="78" y1="192.6" x2="82" y2="192.6" stroke="#777" stroke-width="0.8"/>
<line x1="550" y1="192.6" x2="546" y2="192.6" stroke="#666" stroke-width="0.8"/>
<line x1="78" y1="150.6" x2="82" y2="150.6" stroke="#777" stroke-width="0.8"/>
<line x1="550" y1="150.6" x2="546" y2="150.6" stroke="#666" stroke-width="0.8"/>
<line x1="78" y1="108.6" x2="82" y2="108.6" stroke="#777" stroke-width="0.8"/>
<line x1="550" y1="108.6" x2="546" y2="108.6" stroke="#666" stroke-width="0.8"/>
<line x1="78" y1="66.6" x2="82" y2="66.6" stroke="#777" stroke-width="0.8"/>
<line x1="550" y1="66.6" x2="546" y2="66.6" stroke="#666" stroke-width="0.8"/>
<line x1="158" y1="277" x2="158" y2="273" stroke="#666" stroke-width="0.8"/>
<line x1="158" y1="25" x2="158" y2="28" stroke="#666" stroke-width="0.8"/>
<line x1="238.4" y1="277" x2="238.4" y2="273" stroke="#666" stroke-width="0.8"/>
<line x1="238.4" y1="25" x2="238.4" y2="28" stroke="#666" stroke-width="0.8"/>
<line x1="318.7" y1="277" x2="318.7" y2="273" stroke="#666" stroke-width="0.8"/>
<line x1="318.7" y1="25" x2="318.7" y2="28" stroke="#666" stroke-width="0.8"/>
<line x1="399" y1="277" x2="399" y2="273" stroke="#666" stroke-width="0.8"/>
<line x1="399" y1="25" x2="399" y2="28" stroke="#666" stroke-width="0.8"/>
<line x1="479.3" y1="277" x2="479.3" y2="273" stroke="#666" stroke-width="0.8"/>
<line x1="479.3" y1="25" x2="479.3" y2="28" stroke="#666" stroke-width="0.8"/>
<polygon points="236.7,25.2 467,25.2 549.3,105.2 318.5,105.2" fill="none" stroke="#000" stroke-width="3" stroke-linejoin="miter"/>
<text x="409" y="122" font-size="13" text-anchor="start" textLength="41.5" lengthAdjust="spacingAndGlyphs">DS box</text>
<text x="20" y="15.3" font-size="16" text-anchor="start" class="ser" textLength="19" lengthAdjust="spacingAndGlyphs">(b)</text>
<text x="83" y="16" font-size="19.5" text-anchor="start" textLength="17" lengthAdjust="spacingAndGlyphs">(i)</text>
<text x="72.5" y="29.5" font-size="12" text-anchor="end" textLength="13" lengthAdjust="spacingAndGlyphs">12</text>
<text x="72.8" y="113" font-size="12" text-anchor="end" textLength="13" lengthAdjust="spacingAndGlyphs">10</text>
<text x="74.8" y="198.5" font-size="12" text-anchor="end" textLength="6.6" lengthAdjust="spacingAndGlyphs">8</text>
<text x="73.8" y="271" font-size="12" text-anchor="end" textLength="6.6" lengthAdjust="spacingAndGlyphs">6</text>
<text x="73.5" y="289" font-size="12" text-anchor="start" textLength="13" lengthAdjust="spacingAndGlyphs">50</text>
<text x="228.5" y="291" font-size="12" text-anchor="start" textLength="13.5" lengthAdjust="spacingAndGlyphs">60</text>
<text x="388.6" y="291" font-size="12" text-anchor="start" textLength="13.2" lengthAdjust="spacingAndGlyphs">70</text>
<text x="539.3" y="291" font-size="12" text-anchor="start" textLength="13.2" lengthAdjust="spacingAndGlyphs">80</text>
<text x="264" y="309.8" font-size="14.5" letter-spacing="0.35">x / (c/ω<tspan dy="4" font-size="9.5">pi</tspan><tspan dy="-4" font-size="14.5">)</tspan></text>
<text transform="translate(50.8,166.5) rotate(-90)" font-size="13" letter-spacing="0.5">t/Ω<tspan dy="3" font-size="8.5">ci</tspan><tspan dy="-8.5" dx="0.5" font-size="8.5">-1</tspan></text>
<rect x="555" y="24.6" width="10.3" height="252.6" fill="url(#cb)" stroke="#aaa" stroke-width="0.8"/>
<text x="568" y="27.0" font-size="7" class="ser" style="fill:#333">4.5</text>
<line x1="565.3" y1="60.7" x2="563" y2="60.7" stroke="#333" stroke-width="0.6"/>
<text x="568" y="63.1" font-size="7" class="ser" style="fill:#333">4</text>
<line x1="565.3" y1="96.8" x2="563" y2="96.8" stroke="#333" stroke-width="0.6"/>
<text x="568" y="99.2" font-size="7" class="ser" style="fill:#333">3.5</text>
<line x1="565.3" y1="132.9" x2="563" y2="132.9" stroke="#333" stroke-width="0.6"/>
<text x="568" y="135.3" font-size="7" class="ser" style="fill:#333">3</text>
<line x1="565.3" y1="169.0" x2="563" y2="169.0" stroke="#333" stroke-width="0.6"/>
<text x="568" y="171.4" font-size="7" class="ser" style="fill:#333">2.5</text>
<line x1="565.3" y1="205.1" x2="563" y2="205.1" stroke="#333" stroke-width="0.6"/>
<text x="568" y="207.5" font-size="7" class="ser" style="fill:#333">2</text>
<line x1="565.3" y1="241.1" x2="563" y2="241.1" stroke="#333" stroke-width="0.6"/>
<text x="568" y="243.5" font-size="7" class="ser" style="fill:#333">1.5</text>
<text x="568" y="279.6" font-size="7" class="ser" style="fill:#333">1</text>
<rect x="47.7" y="355.2" width="273.40000000000003" height="199.7" fill="#fff" stroke="#9a9a9a" stroke-width="1"/>
<line x1="47.7" y1="515.0" x2="50.0" y2="515.0" stroke="#888" stroke-width="0.8"/>
<line x1="321.1" y1="515.0" x2="318.8" y2="515.0" stroke="#888" stroke-width="0.8"/>
<line x1="47.7" y1="475.0" x2="50.0" y2="475.0" stroke="#888" stroke-width="0.8"/>
<line x1="321.1" y1="475.0" x2="318.8" y2="475.0" stroke="#888" stroke-width="0.8"/>
<line x1="47.7" y1="435.1" x2="50.0" y2="435.1" stroke="#888" stroke-width="0.8"/>
<line x1="321.1" y1="435.1" x2="318.8" y2="435.1" stroke="#888" stroke-width="0.8"/>
<line x1="47.7" y1="395.1" x2="50.0" y2="395.1" stroke="#888" stroke-width="0.8"/>
<line x1="321.1" y1="395.1" x2="318.8" y2="395.1" stroke="#888" stroke-width="0.8"/>
<line x1="116.1" y1="554.9" x2="116.1" y2="552.6" stroke="#888" stroke-width="0.8"/>
<line x1="116.1" y1="355.2" x2="116.1" y2="357.5" stroke="#888" stroke-width="0.8"/>
<line x1="184.4" y1="554.9" x2="184.4" y2="552.6" stroke="#888" stroke-width="0.8"/>
<line x1="184.4" y1="355.2" x2="184.4" y2="357.5" stroke="#888" stroke-width="0.8"/>
<line x1="252.8" y1="554.9" x2="252.8" y2="552.6" stroke="#888" stroke-width="0.8"/>
<line x1="252.8" y1="355.2" x2="252.8" y2="357.5" stroke="#888" stroke-width="0.8"/>
<polyline fill="none" stroke="#111" stroke-width="1.5" points="47.7,383.2 61.4,384.0 75.0,384.6 88.7,385.2 102.4,386.0 116.1,386.8 129.7,387.0 143.4,387.0 157.1,386.8 170.7,386.2 184.4,386.2 198.1,386.6 211.7,387.2 225.4,387.4 239.1,387.6 252.8,388.0 266.4,388.2 280.1,388.4 293.8,388.5 307.4,389.1 321.1,389.3"/>
<circle cx="47.7" cy="383.2" r="2.3" fill="#111"/>
<circle cx="61.4" cy="384.0" r="2.3" fill="#111"/>
<circle cx="75.0" cy="384.6" r="2.3" fill="#111"/>
<circle cx="88.7" cy="385.2" r="2.3" fill="#111"/>
<circle cx="102.4" cy="386.0" r="2.3" fill="#111"/>
<circle cx="116.1" cy="386.8" r="2.3" fill="#111"/>
<circle cx="129.7" cy="387.0" r="2.3" fill="#111"/>
<circle cx="143.4" cy="387.0" r="2.3" fill="#111"/>
<circle cx="157.1" cy="386.8" r="2.3" fill="#111"/>
<circle cx="170.7" cy="386.2" r="2.3" fill="#111"/>
<circle cx="184.4" cy="386.2" r="2.3" fill="#111"/>
<circle cx="198.1" cy="386.6" r="2.3" fill="#111"/>
<circle cx="211.7" cy="387.2" r="2.3" fill="#111"/>
<circle cx="225.4" cy="387.4" r="2.3" fill="#111"/>
<circle cx="239.1" cy="387.6" r="2.3" fill="#111"/>
<circle cx="252.8" cy="388.0" r="2.3" fill="#111"/>
<circle cx="266.4" cy="388.2" r="2.3" fill="#111"/>
<circle cx="280.1" cy="388.4" r="2.3" fill="#111"/>
<circle cx="293.8" cy="388.5" r="2.3" fill="#111"/>
<circle cx="307.4" cy="389.1" r="2.3" fill="#111"/>
<circle cx="321.1" cy="389.3" r="2.3" fill="#111"/>
<polyline fill="none" stroke="#d0121a" stroke-width="1.5" points="47.7,423.1 61.4,423.7 75.0,424.7 88.7,425.1 102.4,425.9 116.1,426.7 129.7,427.1 143.4,427.1 157.1,427.1 170.7,427.3 184.4,427.9 198.1,428.1 211.7,428.5 225.4,428.9 239.1,428.9 252.8,429.1 266.4,429.3 280.1,429.5 293.8,429.9 307.4,430.1 321.1,430.5"/>
<circle cx="47.7" cy="423.1" r="2.3" fill="#d0121a"/>
<circle cx="61.4" cy="423.7" r="2.3" fill="#d0121a"/>
<circle cx="75.0" cy="424.7" r="2.3" fill="#d0121a"/>
<circle cx="88.7" cy="425.1" r="2.3" fill="#d0121a"/>
<circle cx="102.4" cy="425.9" r="2.3" fill="#d0121a"/>
<circle cx="116.1" cy="426.7" r="2.3" fill="#d0121a"/>
<circle cx="129.7" cy="427.1" r="2.3" fill="#d0121a"/>
<circle cx="143.4" cy="427.1" r="2.3" fill="#d0121a"/>
<circle cx="157.1" cy="427.1" r="2.3" fill="#d0121a"/>
<circle cx="170.7" cy="427.3" r="2.3" fill="#d0121a"/>
<circle cx="184.4" cy="427.9" r="2.3" fill="#d0121a"/>
<circle cx="198.1" cy="428.1" r="2.3" fill="#d0121a"/>
<circle cx="211.7" cy="428.5" r="2.3" fill="#d0121a"/>
<circle cx="225.4" cy="428.9" r="2.3" fill="#d0121a"/>
<circle cx="239.1" cy="428.9" r="2.3" fill="#d0121a"/>
<circle cx="252.8" cy="429.1" r="2.3" fill="#d0121a"/>
<circle cx="266.4" cy="429.3" r="2.3" fill="#d0121a"/>
<circle cx="280.1" cy="429.5" r="2.3" fill="#d0121a"/>
<circle cx="293.8" cy="429.9" r="2.3" fill="#d0121a"/>
<circle cx="307.4" cy="430.1" r="2.3" fill="#d0121a"/>
<circle cx="321.1" cy="430.5" r="2.3" fill="#d0121a"/>
<rect x="416.8" y="352.6" width="277.2" height="203.0" fill="#fff" stroke="#9a9a9a" stroke-width="1"/>
<line x1="416.8" y1="515.0" x2="419.1" y2="515.0" stroke="#888" stroke-width="0.8"/>
<line x1="694" y1="515.0" x2="691.7" y2="515.0" stroke="#888" stroke-width="0.8"/>
<line x1="416.8" y1="474.4" x2="419.1" y2="474.4" stroke="#888" stroke-width="0.8"/>
<line x1="694" y1="474.4" x2="691.7" y2="474.4" stroke="#888" stroke-width="0.8"/>
<line x1="416.8" y1="433.8" x2="419.1" y2="433.8" stroke="#888" stroke-width="0.8"/>
<line x1="694" y1="433.8" x2="691.7" y2="433.8" stroke="#888" stroke-width="0.8"/>
<line x1="416.8" y1="393.2" x2="419.1" y2="393.2" stroke="#888" stroke-width="0.8"/>
<line x1="694" y1="393.2" x2="691.7" y2="393.2" stroke="#888" stroke-width="0.8"/>
<line x1="486.1" y1="555.6" x2="486.1" y2="553.3000000000001" stroke="#888" stroke-width="0.8"/>
<line x1="486.1" y1="352.6" x2="486.1" y2="354.90000000000003" stroke="#888" stroke-width="0.8"/>
<line x1="555.4" y1="555.6" x2="555.4" y2="553.3000000000001" stroke="#888" stroke-width="0.8"/>
<line x1="555.4" y1="352.6" x2="555.4" y2="354.90000000000003" stroke="#888" stroke-width="0.8"/>
<line x1="624.7" y1="555.6" x2="624.7" y2="553.3000000000001" stroke="#888" stroke-width="0.8"/>
<line x1="624.7" y1="352.6" x2="624.7" y2="354.90000000000003" stroke="#888" stroke-width="0.8"/>
<polyline fill="none" stroke="#111" stroke-width="1.5" points="416.8,527.3 430.7,526.6 444.5,525.8 458.4,524.9 472.2,524.3 486.1,523.5 500.0,523.3 513.8,523.3 527.7,523.9 541.5,523.9 555.4,523.7 569.3,523.5 583.1,523.0 597.0,522.7 610.8,522.5 624.7,522.3 638.6,522.0 652.4,521.7 666.3,521.3 680.1,521.0 694.0,520.5"/>
<circle cx="416.8" cy="527.3" r="2.3" fill="#111"/>
<circle cx="430.7" cy="526.6" r="2.3" fill="#111"/>
<circle cx="444.5" cy="525.8" r="2.3" fill="#111"/>
<circle cx="458.4" cy="524.9" r="2.3" fill="#111"/>
<circle cx="472.2" cy="524.3" r="2.3" fill="#111"/>
<circle cx="486.1" cy="523.5" r="2.3" fill="#111"/>
<circle cx="500.0" cy="523.3" r="2.3" fill="#111"/>
<circle cx="513.8" cy="523.3" r="2.3" fill="#111"/>
<circle cx="527.7" cy="523.9" r="2.3" fill="#111"/>
<circle cx="541.5" cy="523.9" r="2.3" fill="#111"/>
<circle cx="555.4" cy="523.7" r="2.3" fill="#111"/>
<circle cx="569.3" cy="523.5" r="2.3" fill="#111"/>
<circle cx="583.1" cy="523.0" r="2.3" fill="#111"/>
<circle cx="597.0" cy="522.7" r="2.3" fill="#111"/>
<circle cx="610.8" cy="522.5" r="2.3" fill="#111"/>
<circle cx="624.7" cy="522.3" r="2.3" fill="#111"/>
<circle cx="638.6" cy="522.0" r="2.3" fill="#111"/>
<circle cx="652.4" cy="521.7" r="2.3" fill="#111"/>
<circle cx="666.3" cy="521.3" r="2.3" fill="#111"/>
<circle cx="680.1" cy="521.0" r="2.3" fill="#111"/>
<circle cx="694.0" cy="520.5" r="2.3" fill="#111"/>
<polyline fill="none" stroke="#d0121a" stroke-width="1.5" points="416.8,548.7 430.7,548.7 444.5,548.7 458.4,548.7 472.2,548.7 486.1,548.7 500.0,548.7 513.8,548.7 527.7,548.7 541.5,548.7 555.4,549.1 569.3,548.9 583.1,548.7 597.0,548.5 610.8,548.3 624.7,548.3 638.6,548.3 652.4,548.1 666.3,548.1 680.1,547.9 694.0,547.9"/>
<circle cx="416.8" cy="548.7" r="2.3" fill="#d0121a"/>
<circle cx="430.7" cy="548.7" r="2.3" fill="#d0121a"/>
<circle cx="444.5" cy="548.7" r="2.3" fill="#d0121a"/>
<circle cx="458.4" cy="548.7" r="2.3" fill="#d0121a"/>
<circle cx="472.2" cy="548.7" r="2.3" fill="#d0121a"/>
<circle cx="486.1" cy="548.7" r="2.3" fill="#d0121a"/>
<circle cx="500.0" cy="548.7" r="2.3" fill="#d0121a"/>
<circle cx="513.8" cy="548.7" r="2.3" fill="#d0121a"/>
<circle cx="527.7" cy="548.7" r="2.3" fill="#d0121a"/>
<circle cx="541.5" cy="548.7" r="2.3" fill="#d0121a"/>
<circle cx="555.4" cy="549.1" r="2.3" fill="#d0121a"/>
<circle cx="569.3" cy="548.9" r="2.3" fill="#d0121a"/>
<circle cx="583.1" cy="548.7" r="2.3" fill="#d0121a"/>
<circle cx="597.0" cy="548.5" r="2.3" fill="#d0121a"/>
<circle cx="610.8" cy="548.3" r="2.3" fill="#d0121a"/>
<circle cx="624.7" cy="548.3" r="2.3" fill="#d0121a"/>
<circle cx="638.6" cy="548.3" r="2.3" fill="#d0121a"/>
<circle cx="652.4" cy="548.1" r="2.3" fill="#d0121a"/>
<circle cx="666.3" cy="548.1" r="2.3" fill="#d0121a"/>
<circle cx="680.1" cy="547.9" r="2.3" fill="#d0121a"/>
<circle cx="694.0" cy="547.9" r="2.3" fill="#d0121a"/>
<text x="52" y="348.1" font-size="13.5" text-anchor="start" textLength="54.8" lengthAdjust="spacingAndGlyphs">(ii) PUI &amp;</text>
<text x="111.5" y="348.1" font-size="13.5" text-anchor="start" style="fill:#cc1420;stroke:#cc1420" textLength="33.2" lengthAdjust="spacingAndGlyphs">R PUI</text>
<text x="422" y="347.7" font-size="13.5" text-anchor="start" textLength="61.7" lengthAdjust="spacingAndGlyphs">(iii) SWI &amp;</text>
<text x="488.3" y="347.7" font-size="13.5" text-anchor="start" style="fill:#cc1420;stroke:#cc1420" textLength="35.3" lengthAdjust="spacingAndGlyphs">R SWI</text>
<text x="42.8" y="396.4" font-size="12" text-anchor="end" textLength="13.2" lengthAdjust="spacingAndGlyphs">80</text>
<text x="44.5" y="478.8" font-size="12" text-anchor="end" textLength="13.4" lengthAdjust="spacingAndGlyphs">40</text>
<text x="44.3" y="555" font-size="12" text-anchor="end" textLength="6.8" lengthAdjust="spacingAndGlyphs">0</text>
<text x="41.5" y="568" font-size="12" text-anchor="start" textLength="12.8" lengthAdjust="spacingAndGlyphs">10</text>
<text x="177.5" y="568" font-size="12" text-anchor="start" textLength="12.6" lengthAdjust="spacingAndGlyphs">11</text>
<text x="309" y="568" font-size="12" text-anchor="start" textLength="12.6" lengthAdjust="spacingAndGlyphs">12</text>
<text x="199.3" y="588.7" font-size="14.8" letter-spacing="1.2">t/Ω<tspan dy="3.6" dx="-0.5" font-size="9.5" letter-spacing="0.2">ci</tspan><tspan dy="-7.3" dx="0.8" font-size="9.5" letter-spacing="0">-1</tspan></text>
<text transform="translate(8.8,454.5) rotate(-90)" font-size="16">χ<tspan dy="3" font-size="9.5">DS,PUI</tspan></text>
<text x="406.3" y="400" font-size="12" text-anchor="end" textLength="13" lengthAdjust="spacingAndGlyphs">80</text>
<text x="411.7" y="479.5" font-size="12" text-anchor="end" textLength="13.4" lengthAdjust="spacingAndGlyphs">40</text>
<text x="415.8" y="570.5" font-size="12" text-anchor="start" textLength="13" lengthAdjust="spacingAndGlyphs">10</text>
<text x="543.8" y="567.5" font-size="12" text-anchor="start" textLength="12.8" lengthAdjust="spacingAndGlyphs">11</text>
<text x="673.2" y="571.2" font-size="12" text-anchor="start" textLength="13.2" lengthAdjust="spacingAndGlyphs">12</text>
<text x="500.4" y="588.7" font-size="14.8" letter-spacing="1.2">t/Ω<tspan dy="3.6" dx="-0.5" font-size="9.5" letter-spacing="0.2">ci</tspan><tspan dy="-7.3" dx="0.8" font-size="9.5" letter-spacing="0">-1</tspan></text>
<text transform="translate(373.6,460.5) rotate(-90)" font-size="16">χ<tspan dy="3" font-size="9.5">DS,SWI</tspan></text>
</svg></body></html>
